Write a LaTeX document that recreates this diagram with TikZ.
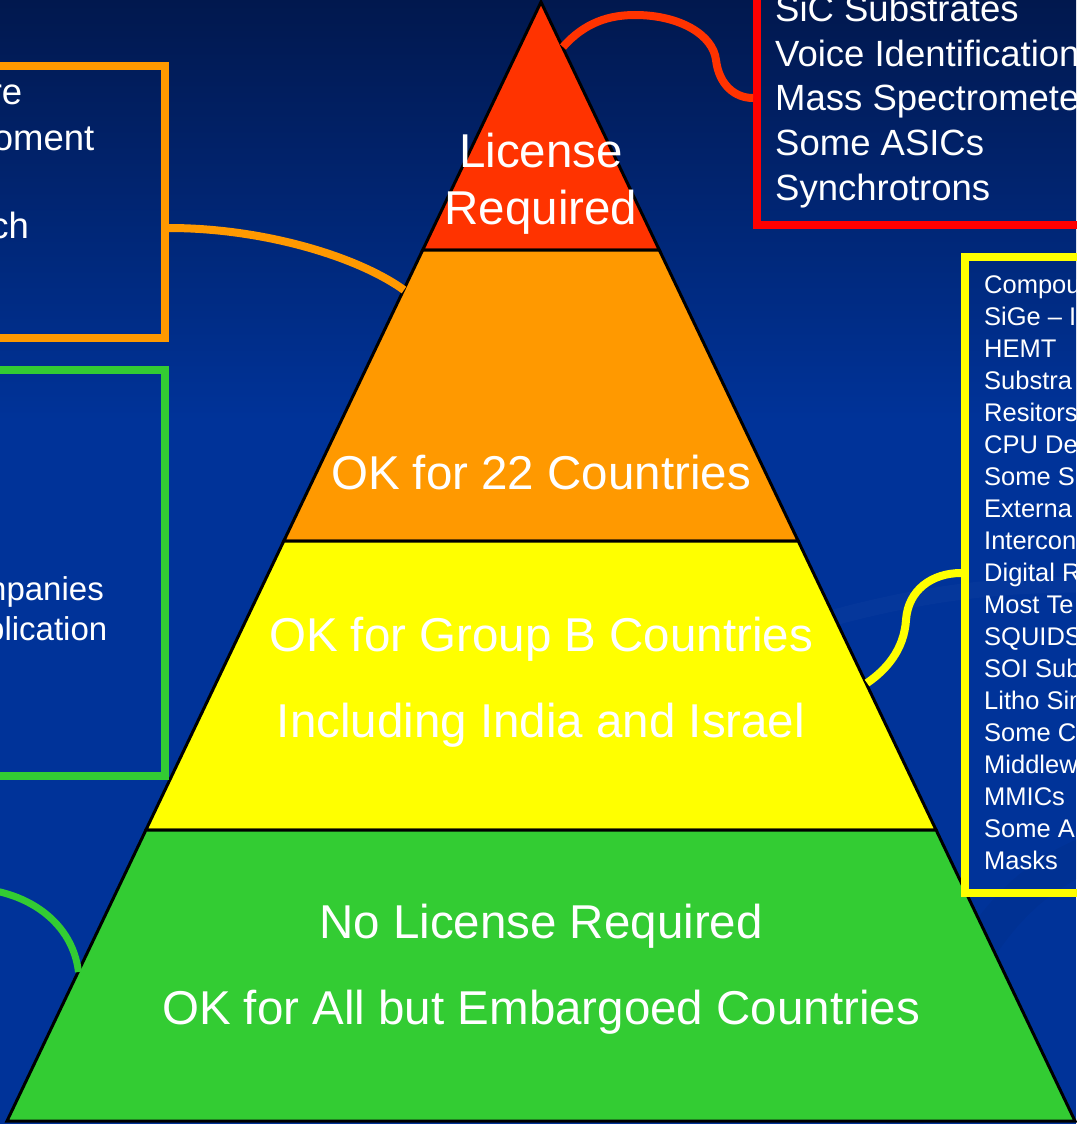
\documentclass[tikz,border=0pt]{standalone}
\usepackage{fontspec}
\setmainfont{Liberation Sans}
\usetikzlibrary{calc}

\definecolor{bgtop}{RGB}{1,24,78}
\definecolor{bgmain}{RGB}{0,51,153}
\definecolor{lvred}{RGB}{255,51,0}
\definecolor{lvorange}{RGB}{255,153,0}
\definecolor{lvyellow}{RGB}{255,255,0}
\definecolor{lvgreen}{RGB}{51,204,51}
\definecolor{boxred}{RGB}{255,0,0}

\begin{document}
\begin{tikzpicture}[x=1pt,y=-1pt,
  tierfill/.style={draw=black, line width=3pt, line join=miter},
  tiertext/.style={text=white, inner sep=0pt, anchor=base,
    font=\fontsize{47.5}{57}\selectfont},
  listbox/.style={draw, line width=8pt, inner sep=0pt},
  biglist/.style={text=white, inner sep=0pt, anchor=base west,
    font=\fontsize{36.5}{44}\selectfont},
  bigcut/.style={text=white, inner sep=0pt, anchor=base east,
    font=\fontsize{36.5}{44}\selectfont},
  midcut/.style={text=white, inner sep=0pt, anchor=base east,
    font=\fontsize{33}{40}\selectfont},
  smalllist/.style={text=white, inner sep=0pt, anchor=base west,
    font=\fontsize{25.5}{32}\selectfont},
  link/.style={line width=8pt, line cap=butt}
]
\useasboundingbox (0,0) rectangle (1076,1124);

% background: dark navy fading into royal blue
\fill[bgmain] (0,0) rectangle (1076,1124);
\shade[top color=bgtop, bottom color=bgmain] (0,0) rectangle (1076,420);
\draw[white, opacity=0.02, line width=16pt]
  (760,640) .. controls (880,600) and (980,582) .. (1100,585);
\draw[black, opacity=0.04, line width=36pt]
  (900,1140) .. controls (950,960) and (1010,880) .. (1100,850);

% pyramid corners
\coordinate (apex) at (541,2);
\coordinate (l1) at (422.7,250);  \coordinate (r1) at (659.3,250);
\coordinate (l2) at (283.8,541);  \coordinate (r2) at (798.2,541);
\coordinate (l3) at (145.9,830);  \coordinate (r3) at (936.1,830);
\coordinate (l4) at (7,1121);     \coordinate (r4) at (1075,1121);

% pyramid tiers
\filldraw[tierfill, fill=lvred]    (apex) -- (r1) -- (l1) -- cycle;
\filldraw[tierfill, fill=lvorange] (l1) -- (r1) -- (r2) -- (l2) -- cycle;
\filldraw[tierfill, fill=lvyellow] (l2) -- (r2) -- (r3) -- (l3) -- cycle;
\filldraw[tierfill, fill=lvgreen]  (l3) -- (r3) -- (r4) -- (l4) -- cycle;

% tier labels
\node[tiertext] (lic1) at (541,167) {License};
\node[tiertext] (lic2) at (541,224) {Required};
\node[tiertext] (ok22) at (541,489) {OK for 22 Countries};
\node[tiertext] (grpb) at (541,651) {OK for Group B Countries};
\node[tiertext] (incl) at (541,737) {Including India and Israel};
\node[tiertext] (nolic) at (541,938) {No License Required};
\node[tiertext] (okall) at (541,1024) {OK for All but Embargoed Countries};

% side boxes
\node[listbox, draw=boxred, minimum width=373pt, minimum height=275pt]
  (redbox) at (943.5,87.5) {};
\node[listbox, draw=lvorange, minimum width=215pt, minimum height=272pt]
  (orangebox) at (57.5,202) {};
\node[listbox, draw=lvgreen, minimum width=215pt, minimum height=406pt]
  (greenbox) at (57.5,573) {};
\node[listbox, draw=lvyellow, minimum width=165pt, minimum height=636pt]
  (yellowbox) at (1047.5,575) {};

% red box list
\foreach \t [count=\i] in {SiC Substrates, Voice Identification,
    Mass Spectromete, Some ASICs, Synchrotrons}
  \node[biglist] (rl\i) at (775,{21.5+44.7*(\i-1)}) {\t};

% orange box list (cut by the left edge)
\node[bigcut] (ol1) at (22.5,104) {re};
\node[bigcut] (ol2) at (94.5,150) {oment};
\node[bigcut] (ol3) at (29,238) {ch};

% green box list (cut by the left edge)
\node[midcut] (gl1) at (104,600) {npanies};
\node[midcut] (gl2) at (107.5,640) {plication};

% yellow box list
\foreach \t [count=\i] in {Compou, {SiGe \textendash{} I}, HEMT, Substra,
    Resitors, CPU De, Some S, Externa, Intercon, Digital R, Most Te,
    SQUIDS, SOI Sub, Litho Sim, Some C, Middlew, MMICs, Some A, Masks}
  \node[smalllist] (yl\i) at (984,{293+32*(\i-1)}) {\t};

% connector end points
\coordinate (ry) at (0,98);
\coordinate (oy) at (0,228);
\coordinate (yy) at (0,573);
\coordinate (redtip) at (563,47);
\coordinate (orangetip) at (404,290);
\coordinate (yellowtip) at (867,683);
\coordinate (greentip) at (78.5,972);
\coordinate (greenstart) at (-40,888);

% connectors
\draw[link, lvred] (redbox.west |- ry)
  .. controls (735,98) and (719,85) .. (716,60)
  .. controls (713,35) and (680,15) .. (635,15)
  .. controls (610,15) and (585,22) .. (redtip);
\draw[link, lvorange] (orangebox.east |- oy)
  .. controls (260,228) and (355,255) .. (orangetip);
\draw[link, lvyellow] (yellowbox.west |- yy)
  .. controls (932,573) and (908,590) .. (906,620)
  .. controls (904,650) and (886,670) .. (yellowtip);
\draw[link, lvgreen, line width=7pt] (greenstart)
  .. controls (20,886) and (72,918) .. (greentip);
\end{tikzpicture}
\end{document}
